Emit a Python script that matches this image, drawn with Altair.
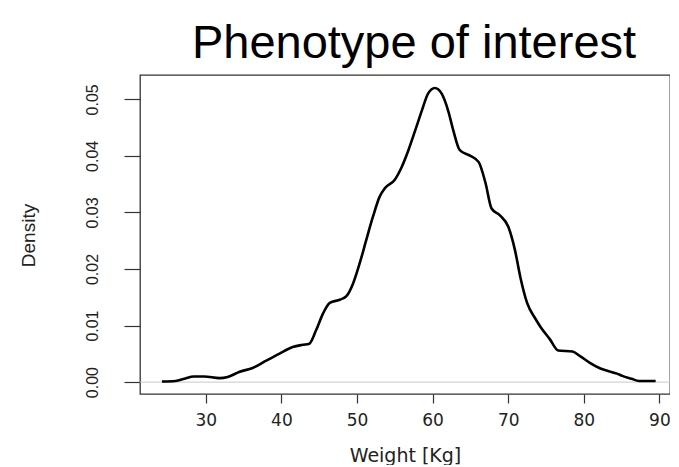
import altair as alt
import pandas as pd

weight = [24.2, 26.0, 27.2, 28.4, 29.8, 31.8, 32.9, 34.4, 36.2, 38.0, 39.7, 41.5, 42.8, 43.7,
          44.6, 45.5, 46.4, 47.8, 48.6, 49.5, 50.4, 51.2, 52.1, 53.0, 53.7, 55.0, 55.9, 56.8,
          57.7, 58.6, 59.4, 60.3, 61.2, 62.1, 62.7, 63.6, 65.0, 66.1, 67.0, 67.8, 68.9, 70.0,
          70.9, 71.6, 72.5, 73.6, 74.3, 75.5, 76.6, 78.5, 79.5, 80.8, 82.2, 83.1, 84.4, 85.1,
          86.3, 87.3, 89.5]
density = [0.0001, 0.0002, 0.0006, 0.0010, 0.0010, 0.0007, 0.0009, 0.0018, 0.0025, 0.0038,
           0.0050, 0.0062, 0.0066, 0.0068, 0.0092, 0.0121, 0.0140, 0.0146, 0.0152, 0.0175,
           0.0212, 0.0250, 0.0292, 0.0328, 0.0343, 0.0358, 0.0380, 0.0410, 0.0445, 0.0481,
           0.0510, 0.0520, 0.0510, 0.0478, 0.0447, 0.0410, 0.0400, 0.0389, 0.0352, 0.0307,
           0.0295, 0.0275, 0.0233, 0.0186, 0.0140, 0.0112, 0.0097, 0.0076, 0.0056, 0.0054,
           0.0046, 0.0034, 0.0024, 0.0020, 0.0015, 0.0011, 0.0006, 0.0002, 0.0002]
x_ticks = [30, 40, 50, 60, 70, 80, 90]
y_ticks = [0.00, 0.01, 0.02, 0.03, 0.04, 0.05]
zero_line = [0.0]

df = pd.DataFrame({"weight": weight, "density": density})
zdf = pd.DataFrame({"z": zero_line})

x_scale = alt.Scale(domain=[21.3, 91.4], nice=False, zero=False)
y_scale = alt.Scale(domain=[-0.0021, 0.0543], nice=False, zero=False)

x_axis = alt.Axis(values=x_ticks, domain=False, grid=False, tickSize=9, tickColor="#333",
                  tickWidth=1.2, labelFont="DejaVu Sans", labelFontSize=17, labelColor="#222",
                  labelPadding=9, title="Weight [Kg]", titleFont="DejaVu Sans",
                  titleFontSize=19, titleFontWeight="normal", titleColor="#222",
                  titleBaseline="alphabetic", titleY=67)
y_axis = alt.Axis(values=y_ticks, format=".2f", domain=False, grid=False, tickSize=16,
                  tickColor="#333", tickWidth=1.2, labelFont="Liberation Sans",
                  labelFontSize=16, labelColor="#222", labelAngle=270, labelAlign="center",
                  labelBaseline="bottom", labelPadding=24, title="Density",
                  titleFont="Liberation Sans", titleFontSize=19, titleFontWeight="normal",
                  titleColor="#222", titleAngle=270, titleAlign="center",
                  titleBaseline="middle", titleX=-112, titleY=160)

line = alt.Chart(df).mark_line(color="black", strokeWidth=2.6, interpolate="monotone").encode(
    x=alt.X("weight:Q", scale=x_scale, axis=x_axis),
    y=alt.Y("density:Q", scale=y_scale, axis=y_axis),
)

zero = alt.Chart(zdf).mark_rule(color="#c8c8c8", strokeWidth=1).encode(
    y=alt.Y("z:Q", scale=y_scale)
)

chart = alt.layer(zero, line).properties(
    width=530,
    height=319,
    autosize=alt.AutoSizeParams(type="none"),
    padding={"left": 132, "top": 67, "right": 0, "bottom": 71},
    title=alt.TitleParams("Phenotype of interest", font="Liberation Sans", fontSize=47,
                          fontWeight="normal", color="black", anchor="middle",
                          baseline="alphabetic", offset=10, dx=9, dy=40),
).configure_view(stroke="#333", strokeWidth=1.3)

chart.save("out.html", embed_options={"renderer": "svg", "actions": False})
